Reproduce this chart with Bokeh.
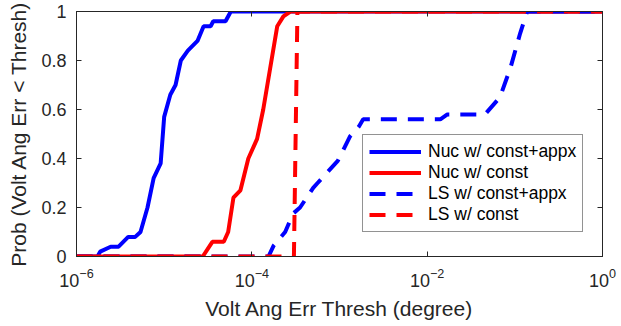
import numpy as np
from bokeh.plotting import figure
from bokeh.models import (FixedTicker, LinearAxis, LogAxis, Legend, LegendItem,
                          Range1d, CustomJSTickFormatter)
from bokeh.embed import file_html
from bokeh.resources import INLINE

# ---- data (x given as log10 of threshold in degrees, y = probability) ----
nuc_appx_log10x = [-6.0, -5.76, -5.73, -5.61, -5.52, -5.41, -5.33, -5.27, -5.19, -5.12,
                   -5.04, -5.00, -4.93, -4.87, -4.81, -4.73, -4.62, -4.55, -4.47, -4.44,
                   -4.30, -4.24, 0.0]
nuc_appx_prob = [0.0, 0.0, 0.02, 0.04, 0.04, 0.08, 0.08, 0.10, 0.20, 0.32,
                 0.38, 0.57, 0.66, 0.70, 0.80, 0.84, 0.88, 0.94, 0.94, 0.96,
                 0.96, 1.0, 1.0]

nuc_const_log10x = [-6.0, -4.56, -4.45, -4.32, -4.27, -4.21, -4.13, -4.04, -3.94, -3.87,
                    -3.71, -3.64, -3.56, 0.0]
nuc_const_prob = [0.0, 0.0, 0.06, 0.06, 0.10, 0.24, 0.27, 0.40, 0.48, 0.60,
                  0.94, 0.98, 1.0, 1.0]

ls_appx_log10x = [-6.0, -3.81, -3.75, -3.62, -3.53, -3.45, -3.30, -3.25, -3.02, -2.88,
                  -2.78, -2.73, -1.85, -1.77, -1.34, -1.17, -1.05, -0.94, -0.86, 0.0]
ls_appx_prob = [0.0, 0.0, 0.045, 0.10, 0.175, 0.20, 0.28, 0.30, 0.39, 0.49,
                0.53, 0.56, 0.56, 0.58, 0.58, 0.65, 0.77, 0.91, 1.0, 1.0]

ls_const_log10x = [-6.0, -3.52, -3.48, 0.0]
ls_const_prob = [0.0, 0.0, 1.0, 1.0]

series_names = ["Nuc w/ const+appx", "Nuc w/ const", "LS w/ const+appx", "LS w/ const"]
x_ticks = [1e-6, 1e-4, 1e-2, 1.0]
y_ticks = [0, 0.2, 0.4, 0.6, 0.8, 1.0]

TXT = "#262626"
FONT = "Liberation Sans"

p = figure(width=621, height=326, x_axis_type="log",
           x_range=Range1d(1e-6, 1.0), y_range=Range1d(0, 1),
           output_backend="svg", toolbar_location=None,
           min_border_left=76, min_border_right=19, min_border_top=11, min_border_bottom=70)
p.xgrid.visible = False
p.ygrid.visible = False
p.outline_line_color = TXT
p.outline_line_width = 1
p.background_fill_color = "white"
p.border_fill_color = "white"

def to_x(lx):
    return [10.0 ** v for v in lx]

specs = [
    (nuc_appx_log10x, nuc_appx_prob, "#0000ff", "solid"),
    (nuc_const_log10x, nuc_const_prob, "#ff0000", "solid"),
    (ls_appx_log10x, ls_appx_prob, "#0000ff", "16 11"),
    (ls_const_log10x, ls_const_prob, "#ff0000", "16 11"),
]
renderers = []
for lx, yy, col, dash in specs:
    r = p.line(to_x(lx), yy, line_color=col, line_width=4, line_dash=dash)
    renderers.append(r)

xa = p.xaxis[0]
xa.ticker = FixedTicker(ticks=x_ticks, minor_ticks=[])
ya = p.yaxis[0]
ya.ticker = FixedTicker(ticks=y_ticks, minor_ticks=[])
ya.formatter.use_scientific = False

for ax in (xa, ya):
    ax.major_tick_in = 5
    ax.major_tick_out = 0
    ax.minor_tick_in = 0
    ax.minor_tick_out = 0
    ax.axis_line_color = TXT
    ax.major_tick_line_color = TXT
    ax.major_label_text_font = FONT
    ax.major_label_text_font_size = "18px"
    ax.major_label_text_color = TXT
    ax.axis_label_text_font = FONT
    ax.axis_label_text_font_size = "21px"
    ax.axis_label_text_font_style = "normal"
    ax.axis_label_text_color = TXT

xa.axis_label = "Volt Ang Err Thresh (degree)"
xa.major_label_standoff = 11
xa.axis_label_standoff = 7
ya.axis_label = "Prob (Volt Ang Err < Thresh)"
ya.major_label_standoff = 10
ya.axis_label_standoff = 8

# mirrored box ticks (no labels)
top = LogAxis(ticker=FixedTicker(ticks=x_ticks, minor_ticks=[]),
              formatter=CustomJSTickFormatter(code="return ''"),
              major_tick_in=5, major_tick_out=0, minor_tick_in=0, minor_tick_out=0,
              major_label_standoff=0,
              axis_line_color=TXT, major_tick_line_color=TXT)
p.add_layout(top, "above")
right = LinearAxis(ticker=FixedTicker(ticks=y_ticks, minor_ticks=[]),
                   formatter=CustomJSTickFormatter(code="return ''"),
                   major_tick_in=5, major_tick_out=0, minor_tick_in=0, minor_tick_out=0,
                   major_label_standoff=0,
                   axis_line_color=TXT, major_tick_line_color=TXT)
p.add_layout(right, "right")

legend = Legend(items=[LegendItem(label=n, renderers=[r]) for n, r in zip(series_names, renderers)],
                location=(286, 24), padding=6, spacing=0, margin=0,
                glyph_width=52, glyph_height=19, label_height=19, label_standoff=7,
                label_text_font=FONT, label_text_font_size="17.5px", label_text_color="black",
                border_line_color=TXT, border_line_width=1,
                background_fill_color="white", background_fill_alpha=1.0)
p.add_layout(legend)

open("out.html", "w").write(file_html(p, INLINE))
